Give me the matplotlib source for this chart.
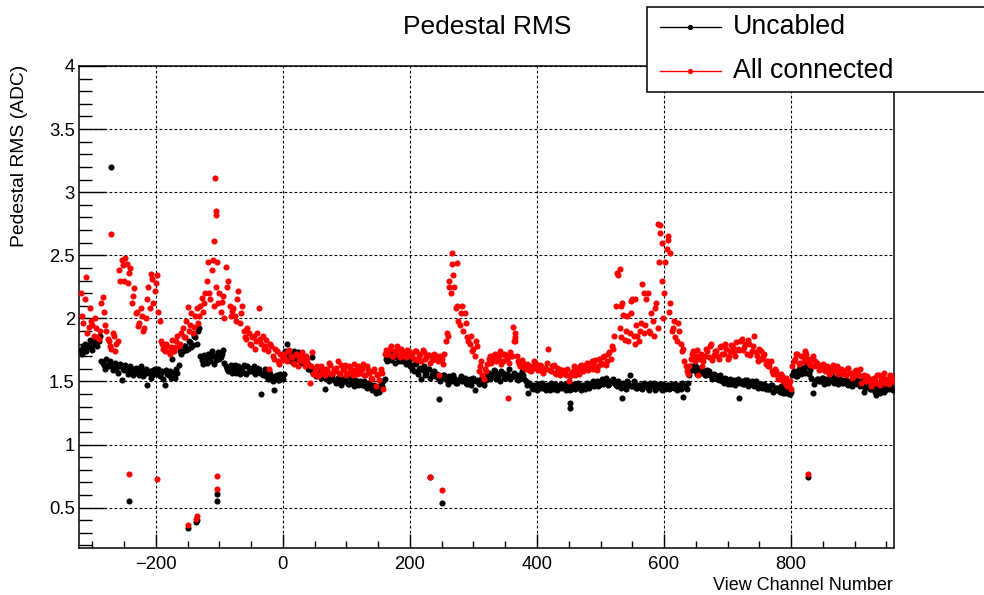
import numpy as np
import matplotlib
matplotlib.use("Agg")
import matplotlib.pyplot as plt
from matplotlib.patches import Rectangle
from matplotlib.lines import Line2D
from matplotlib.ticker import MultipleLocator

plt.rcParams['font.family'] = ['Liberation Sans', 'DejaVu Sans']

# two interleaved channel grids
channels_a = np.arange(-318, 960, 4)
channels_b = np.arange(-316, 961, 4)

uncabled_a = [
    1.75, 1.78, 1.74, 1.79, 1.77, 1.80, 1.84, 1.82, 1.66, 1.63,
    1.68, 1.64, 1.62, 1.63, 1.60, 1.62, 1.51, 1.59, 1.61, 1.58,
    1.60, 1.57, 1.59, 1.55, 1.58, 1.56, 1.47, 1.58, 1.55, 1.60,
    1.57, 1.54, 1.58, 1.47, 1.56, 1.58, 1.68, 1.53, 1.57, 1.74,
    1.74, 1.78, 1.76, 1.81, 1.79, 1.85, 1.90, 1.70, 1.64, 1.68,
    1.72, 1.66, 1.70, 1.67, 1.73, 1.69, 1.75, 1.62, 1.58, 1.63,
    1.60, 1.57, 1.62, 1.59, 1.63, 1.56, 1.61, 1.58, 1.62, 1.59,
    1.60, 1.40, 1.57, 1.54, 1.58, 1.52, 1.43, 1.55, 1.51, 1.53,
    1.56, 1.80, 1.72, 1.69, 1.74, 1.70, 1.67, 1.71, 1.68, 1.65,
    1.62, 1.69, 1.60, 1.56, 1.55, 1.58, 1.44, 1.54, 1.52, 1.55,
    1.51, 1.53, 1.49, 1.52, 1.50, 1.48, 1.53, 1.49, 1.51, 1.47,
    1.50, 1.48, 1.46, 1.49, 1.47, 1.45, 1.41, 1.44, 1.48, 1.50,
    1.68, 1.70, 1.67, 1.71, 1.69, 1.66, 1.70, 1.68, 1.64, 1.67,
    1.63, 1.58, 1.65, 1.60, 1.52, 1.62, 1.57, 1.60, 1.55, 1.58,
    1.56, 1.36, 1.53, 1.55, 1.51, 1.54, 1.50, 1.53, 1.49, 1.52,
    1.50, 1.53, 1.48, 1.52, 1.50, 1.43, 1.51, 1.49, 1.50, 1.53,
    1.55, 1.52, 1.56, 1.58, 1.54, 1.50, 1.57, 1.53, 1.55, 1.52,
    1.54, 1.56, 1.51, 1.53, 1.55, 1.50, 1.41, 1.47, 1.44, 1.46,
    1.48, 1.45, 1.47, 1.43, 1.46, 1.49, 1.44, 1.47, 1.45, 1.48,
    1.46, 1.43, 1.47, 1.44, 1.48, 1.45, 1.47, 1.43, 1.46, 1.49,
    1.45, 1.48, 1.46, 1.50, 1.47, 1.52, 1.49, 1.51, 1.48, 1.50,
    1.49, 1.46, 1.48, 1.37, 1.47, 1.50, 1.55, 1.46, 1.48, 1.45,
    1.47, 1.44, 1.48, 1.45, 1.49, 1.46, 1.43, 1.47, 1.45, 1.48,
    1.44, 1.47, 1.45, 1.46, 1.48, 1.46, 1.44, 1.38, 1.45, 1.49,
    1.62, 1.60, 1.58, 1.61, 1.57, 1.59, 1.55, 1.58, 1.54, 1.56,
    1.54, 1.51, 1.53, 1.49, 1.52, 1.50, 1.48, 1.51, 1.49, 1.37,
    1.50, 1.48, 1.51, 1.47, 1.50, 1.46, 1.49, 1.47, 1.45, 1.48,
    1.46, 1.44, 1.47, 1.43, 1.45, 1.42, 1.44, 1.41, 1.43, 1.40,
    1.55, 1.57, 1.54, 1.58, 1.61, 1.57, 1.63, 1.59, 1.41, 1.50,
    1.52, 1.50, 1.53, 1.51, 1.49, 1.52, 1.50, 1.53, 1.48, 1.51,
    1.49, 1.51, 1.47, 1.50, 1.52, 1.48, 1.49, 1.47, 1.42, 1.48,
    1.46, 1.44, 1.47, 1.39, 1.43, 1.45, 1.42, 1.46, 1.44, 1.45,
]

uncabled_b = [
    1.72, 1.80, 1.77, 1.83, 1.75, 1.81, 1.78, 1.86, 1.65, 1.60,
    1.62, 1.66, 1.59, 1.65, 1.57, 1.64, 1.60, 1.63, 1.56, 1.62,
    1.55, 1.61, 1.58, 1.62, 1.54, 1.60, 1.57, 1.53, 1.59, 1.56,
    1.60, 1.57, 1.52, 1.59, 1.55, 1.53, 1.57, 1.60, 1.63, 1.72,
    1.78, 1.75, 1.82, 1.77, 1.86, 1.80, 1.92, 1.67, 1.71, 1.65,
    1.69, 1.74, 1.64, 1.71, 1.68, 1.72, 1.65, 1.60, 1.61, 1.57,
    1.63, 1.59, 1.56, 1.61, 1.57, 1.62, 1.58, 1.60, 1.56, 1.61,
    1.57, 1.55, 1.60, 1.52, 1.56, 1.50, 1.54, 1.51, 1.56, 1.52,
    1.74, 1.70, 1.66, 1.72, 1.68, 1.73, 1.65, 1.69, 1.64, 1.60,
    1.59, 1.57, 1.54, 1.60, 1.53, 1.56, 1.52, 1.50, 1.54, 1.51,
    1.49, 1.52, 1.47, 1.50, 1.54, 1.48, 1.51, 1.46, 1.50, 1.48,
    1.47, 1.50, 1.45, 1.48, 1.43, 1.47, 1.45, 1.42, 1.46, 1.52,
    1.66, 1.69, 1.72, 1.65, 1.70, 1.68, 1.66, 1.71, 1.67, 1.62,
    1.60, 1.64, 1.56, 1.61, 1.59, 1.55, 1.60, 1.53, 1.57, 1.54,
    1.53, 1.50, 1.55, 1.52, 1.48, 1.52, 1.55, 1.49, 1.51, 1.54,
    1.52, 1.49, 1.51, 1.47, 1.53, 1.50, 1.48, 1.52, 1.47, 1.51,
    1.57, 1.54, 1.59, 1.52, 1.56, 1.58, 1.53, 1.56, 1.60, 1.54,
    1.57, 1.52, 1.55, 1.58, 1.52, 1.47, 1.49, 1.45, 1.47, 1.43,
    1.46, 1.49, 1.44, 1.47, 1.43, 1.46, 1.48, 1.43, 1.47, 1.45,
    1.48, 1.45, 1.43, 1.46, 1.44, 1.49, 1.45, 1.47, 1.44, 1.47,
    1.47, 1.50, 1.48, 1.46, 1.50, 1.48, 1.53, 1.47, 1.50, 1.52,
    1.47, 1.50, 1.45, 1.49, 1.44, 1.48, 1.46, 1.50, 1.45, 1.47,
    1.45, 1.49, 1.46, 1.43, 1.47, 1.49, 1.45, 1.48, 1.43, 1.46,
    1.47, 1.44, 1.48, 1.45, 1.43, 1.47, 1.49, 1.46, 1.44, 1.55,
    1.59, 1.63, 1.56, 1.60, 1.58, 1.55, 1.59, 1.56, 1.52, 1.55,
    1.52, 1.55, 1.50, 1.53, 1.48, 1.52, 1.50, 1.47, 1.52, 1.49,
    1.48, 1.51, 1.46, 1.49, 1.47, 1.50, 1.45, 1.48, 1.46, 1.44,
    1.44, 1.47, 1.42, 1.45, 1.43, 1.46, 1.41, 1.44, 1.40, 1.42,
    1.58, 1.54, 1.60, 1.56, 1.59, 1.62, 1.56, 1.53, 1.48, 1.52,
    1.50, 1.53, 1.48, 1.52, 1.50, 1.54, 1.49, 1.51, 1.53, 1.49,
    1.51, 1.48, 1.50, 1.46, 1.49, 1.51, 1.46, 1.50, 1.45, 1.47,
    1.44, 1.47, 1.42, 1.45, 1.41, 1.46, 1.43, 1.45, 1.47, 1.43,
]

connected_a = [
    2.20, 1.96, 2.33, 1.93, 1.98, 1.86, 1.92, 1.84, 2.12, 2.05,
    1.90, 1.82, 1.76, 1.86, 1.80, 2.38, 2.46, 2.30, 2.43, 2.36,
    2.12, 2.24, 2.05, 1.96, 2.02, 1.92, 2.15, 2.08, 2.31, 2.22,
    2.34, 1.98, 1.80, 1.74, 1.78, 1.72, 1.83, 1.77, 1.86, 1.80,
    1.92, 1.85, 2.09, 1.95, 1.88, 2.02, 1.96, 2.10, 2.05, 2.20,
    2.45, 2.15, 2.46, 2.25, 2.12, 2.05, 2.18, 2.41, 2.30, 2.02,
    2.08, 1.98, 2.22, 2.04, 1.90, 1.84, 1.88, 1.79, 1.86, 1.82,
    2.08, 1.80, 1.76, 1.83, 1.60, 1.78, 1.68, 1.74, 1.64, 1.70,
    1.72, 1.66, 1.75, 1.69, 1.64, 1.71, 1.67, 1.73, 1.62, 1.68,
    1.49, 1.73, 1.58, 1.62, 1.56, 1.60, 1.55, 1.59, 1.63, 1.57,
    1.58, 1.66, 1.56, 1.60, 1.63, 1.57, 1.61, 1.55, 1.59, 1.62,
    1.57, 1.64, 1.55, 1.59, 1.53, 1.58, 1.46, 1.56, 1.60, 1.44,
    1.75, 1.72, 1.78, 1.70, 1.74, 1.71, 1.76, 1.73, 1.69, 1.74,
    1.72, 1.68, 1.74, 1.70, 1.66, 1.73, 1.69, 1.71, 1.67, 1.72,
    1.70, 1.55, 1.68, 1.72, 1.88, 2.30, 2.52, 2.25, 2.44, 1.95,
    2.10, 2.04, 1.85, 1.80, 1.74, 1.70, 1.78, 1.62, 1.55, 1.60,
    1.64, 1.70, 1.67, 1.72, 1.68, 1.74, 1.66, 1.71, 1.69, 1.73,
    1.93, 1.85, 1.66, 1.62, 1.65, 1.60, 1.63, 1.58, 1.61, 1.64,
    1.59, 1.62, 1.57, 1.60, 1.76, 1.58, 1.63, 1.56, 1.60, 1.57,
    1.58, 1.55, 1.50, 1.57, 1.62, 1.59, 1.56, 1.63, 1.60, 1.65,
    1.61, 1.66, 1.63, 1.59, 1.68, 1.64, 1.70, 1.66, 1.73, 1.78,
    1.86, 2.36, 1.92, 2.12, 1.83, 2.02, 1.88, 2.15, 1.80, 1.86,
    1.90, 2.27, 1.95, 2.20, 1.88, 1.98, 2.08, 1.92, 2.74, 2.00,
    2.45, 2.62, 2.12, 1.92, 1.85, 1.96, 1.80, 1.76, 1.62, 1.56,
    1.68, 1.74, 1.70, 1.55, 1.72, 1.66, 1.76, 1.69, 1.80, 1.71,
    1.74, 1.68, 1.78, 1.72, 1.76, 1.70, 1.79, 1.73, 1.81, 1.75,
    1.84, 1.77, 1.72, 1.80, 1.74, 1.86, 1.70, 1.76, 1.68, 1.72,
    1.66, 1.62, 1.58, 1.60, 1.55, 1.52, 1.54, 1.49, 1.46, 1.50,
    1.62, 1.68, 1.72, 1.65, 1.70, 1.74, 1.68, 1.63, 1.70, 1.66,
    1.62, 1.60, 1.64, 1.58, 1.61, 1.57, 1.63, 1.59, 1.56, 1.60,
    1.58, 1.55, 1.61, 1.57, 1.54, 1.59, 1.56, 1.49, 1.55, 1.52,
    1.50, 1.46, 1.53, 1.49, 1.55, 1.51, 1.57, 1.52, 1.48, 1.54,
]

connected_b = [
    2.02, 2.15, 1.88, 2.08, 1.95, 2.00, 1.85, 1.90, 2.17, 1.95,
    1.84, 1.78, 1.88, 1.74, 1.82, 2.30, 2.42, 2.48, 2.28, 2.40,
    2.18, 2.04, 1.94, 2.08, 1.90, 2.00, 2.25, 2.35, 2.12, 2.28,
    2.05, 1.82, 1.76, 1.80, 1.73, 1.77, 1.74, 1.82, 1.78, 1.88,
    1.85, 1.98, 1.90, 2.04, 1.93, 2.08, 2.02, 2.16, 2.12, 2.30,
    2.20, 2.38, 2.10, 2.45, 2.20, 2.13, 2.00, 2.25, 2.10, 2.06,
    2.02, 2.15, 1.96, 2.10, 1.85, 1.92, 1.80, 1.85, 1.76, 1.88,
    1.84, 1.86, 1.78, 1.74, 1.80, 1.70, 1.76, 1.66, 1.72, 1.67,
    1.68, 1.74, 1.70, 1.65, 1.72, 1.62, 1.69, 1.66, 1.70, 1.64,
    1.62, 1.56, 1.60, 1.54, 1.62, 1.57, 1.60, 1.65, 1.56, 1.60,
    1.61, 1.57, 1.63, 1.59, 1.55, 1.62, 1.58, 1.64, 1.56, 1.60,
    1.60, 1.55, 1.62, 1.57, 1.52, 1.60, 1.55, 1.51, 1.57, 1.72,
    1.72, 1.76, 1.70, 1.74, 1.78, 1.69, 1.73, 1.70, 1.75, 1.71,
    1.70, 1.74, 1.67, 1.72, 1.75, 1.68, 1.71, 1.65, 1.70, 1.68,
    1.66, 1.70, 1.64, 1.82, 1.86, 2.20, 2.34, 2.08, 1.98, 2.04,
    1.90, 1.96, 1.82, 1.86, 1.76, 1.82, 1.58, 1.66, 1.52, 1.58,
    1.68, 1.65, 1.71, 1.66, 1.70, 1.64, 1.72, 1.68, 1.65, 1.70,
    1.82, 1.70, 1.64, 1.67, 1.61, 1.64, 1.59, 1.62, 1.66, 1.60,
    1.63, 1.58, 1.61, 1.65, 1.59, 1.62, 1.57, 1.61, 1.55, 1.59,
    1.56, 1.60, 1.54, 1.58, 1.55, 1.60, 1.62, 1.58, 1.63, 1.59,
    1.64, 1.60, 1.67, 1.62, 1.65, 1.69, 1.63, 1.72, 1.68, 1.76,
    2.10, 2.34, 1.85, 2.03, 1.90, 1.82, 2.14, 1.86, 1.95, 1.82,
    1.96, 1.88, 2.15, 1.90, 2.04, 1.86, 2.12, 2.45, 2.30, 2.20,
    2.55, 2.05, 1.90, 1.98, 1.82, 1.90, 1.74, 1.66, 1.58, 1.62,
    1.72, 1.66, 1.75, 1.68, 1.62, 1.70, 1.74, 1.78, 1.67, 1.74,
    1.70, 1.77, 1.72, 1.80, 1.68, 1.74, 1.77, 1.70, 1.76, 1.82,
    1.75, 1.80, 1.83, 1.71, 1.78, 1.73, 1.66, 1.74, 1.70, 1.64,
    1.62, 1.66, 1.56, 1.58, 1.52, 1.56, 1.50, 1.53, 1.47, 1.44,
    1.66, 1.72, 1.64, 1.70, 1.66, 1.72, 1.65, 1.68, 1.62, 1.65,
    1.59, 1.63, 1.60, 1.62, 1.56, 1.60, 1.58, 1.62, 1.60, 1.57,
    1.56, 1.60, 1.57, 1.53, 1.58, 1.55, 1.60, 1.54, 1.50, 1.54,
    1.52, 1.48, 1.51, 1.55, 1.47, 1.53, 1.49, 1.50, 1.55, 1.50,
]

# channels off the grids: dead / noisy ones and spikes
uncabled_extra_ch = [-271, -243, -149, -137, -135, -103, -103, 250, 231, 452, 452, 827]
uncabled_extra = [3.20, 0.55, 0.34, 0.39, 0.40, 0.61, 0.55, 0.54, 0.74, 1.29, 1.33, 0.74]

connected_extra_ch = [-271, -243, -198, -149, -137, -135, -103, -103, -107, -106,
                      -106, -108, 231, 250, 266, 274, 262, 354, 365, 366,
                      827, 591, 593, 596, 606, 609, 530, 532, 569, 555, 548]
connected_extra = [2.67, 0.77, 0.73, 0.36, 0.41, 0.43, 0.75, 0.65, 3.11, 2.85,
                   2.82, 2.61, 0.74, 0.64, 2.43, 2.10, 2.25, 1.37, 1.88, 1.82,
                   0.77, 2.75, 2.68, 2.60, 2.65, 2.52, 2.39, 2.10, 2.20, 2.15, 2.04]


def main():
    W, H = 984, 595
    fig = plt.figure(figsize=(W / 100, H / 100), dpi=100)
    ax = fig.add_axes([79 / W, 1 - 548 / H, (894 - 79) / W, (548 - 66) / H])

    ms = 4.4
    for x, y in [(channels_a, uncabled_a), (channels_b, uncabled_b), (uncabled_extra_ch, uncabled_extra)]:
        ax.plot(x, y, 'o', color='black', ms=ms, mew=0, zorder=3)
    for x, y in [(channels_a, connected_a), (channels_b, connected_b), (connected_extra_ch, connected_extra)]:
        ax.plot(x, y, 'o', color='red', ms=ms, mew=0, zorder=4)

    ax.set_xlim(-321, 962)
    ax.set_ylim(0.18, 4.0)
    ax.xaxis.set_major_locator(MultipleLocator(200))
    ax.xaxis.set_minor_locator(MultipleLocator(50))
    ax.yaxis.set_major_locator(MultipleLocator(0.5))
    ax.yaxis.set_minor_locator(MultipleLocator(0.1))
    ax.yaxis.set_major_formatter(plt.FuncFormatter(lambda v, p: ('%g' % v)))
    ax.xaxis.set_major_formatter(plt.FuncFormatter(lambda v, p: ('%d' % v).replace('-', '\u2212')))

    ax.tick_params(axis='x', which='major', direction='in', length=10, width=1, labelsize=13.3, pad=6)
    ax.tick_params(axis='x', which='minor', direction='in', length=5, width=1)
    ax.tick_params(axis='y', which='major', direction='in', length=19.5, width=1, labelsize=13.3, pad=3)
    ax.tick_params(axis='y', which='minor', direction='in', length=9.5, width=1)
    ax.tick_params(top=False, right=False, which='both')

    ax.grid(True, which='major', color='black', linestyle=(0, (2.5, 2)), linewidth=0.8)
    ax.set_axisbelow(True)
    for s in ax.spines.values():
        s.set_linewidth(1.1)

    fig.text(487 / W, 1 - 27 / H, 'Pedestal RMS', ha='center', va='center', fontsize=19)
    fig.text(20 / W, 1 - 65 / H, 'Pedestal RMS (ADC)', rotation=90, ha='center', va='top', fontsize=13.9)
    fig.text(893 / W, 1 - 585 / H, 'View Channel Number', ha='right', va='center', fontsize=13)

    # legend box in the top right corner, drawn over the frame
    fig.patches.append(Rectangle((647 / W, 1 - 92 / H), (1000 - 647) / W, (92 - 7) / H,
                                 transform=fig.transFigure, facecolor='white',
                                 edgecolor='black', linewidth=1.1, zorder=5))
    for y, col, label in [(27, 'black', 'Uncabled'), (71, 'red', 'All connected')]:
        fig.lines.append(Line2D([660 / W, 721 / W], [1 - y / H, 1 - y / H], transform=fig.transFigure,
                                color=col, linewidth=1, zorder=6))
        fig.lines.append(Line2D([690 / W], [1 - y / H], transform=fig.transFigure, marker='o',
                                color=col, ms=3.8, mew=0, zorder=6))
        fig.text(733 / W, 1 - y / H, label, ha='left', va='center', fontsize=19.3, zorder=7)

    fig.savefig('out.png', dpi=100)
    plt.close()


if __name__ == '__main__':
    main()
